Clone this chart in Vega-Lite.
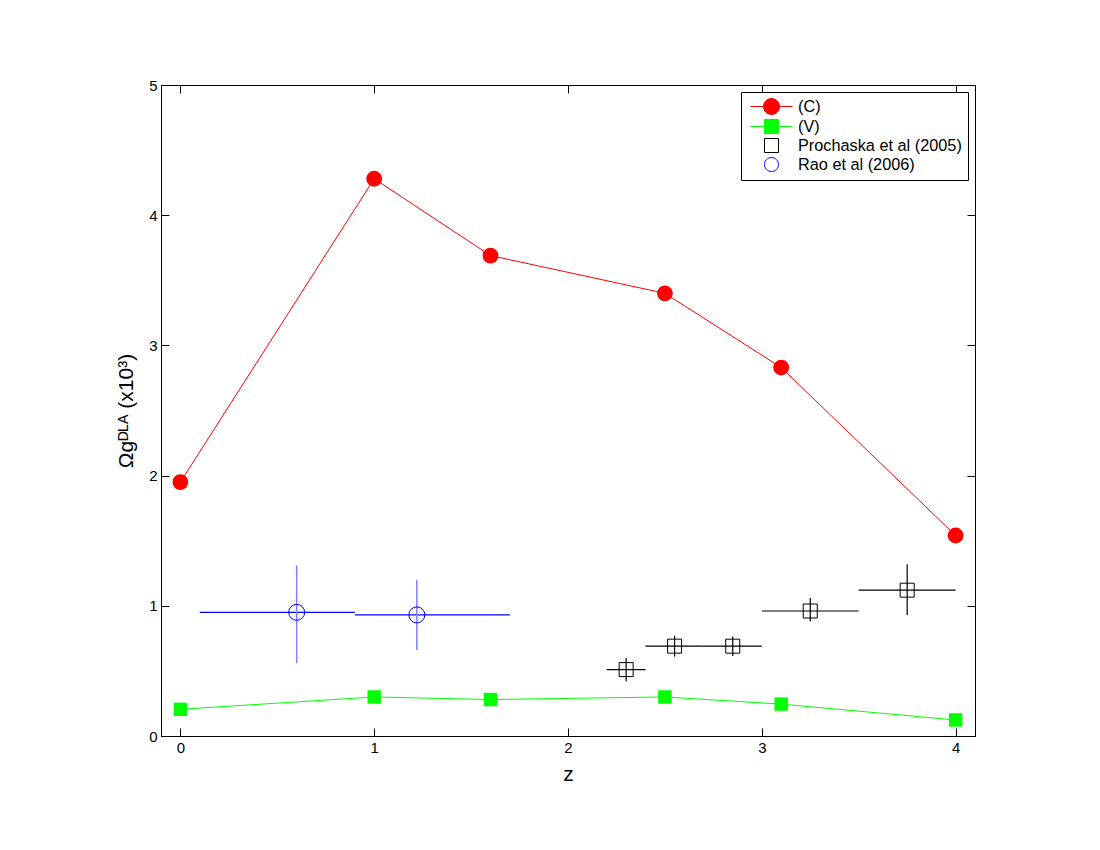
{
  "$schema": "https://vega.github.io/schema/vega-lite/v6.json",
  "autosize": {"type": "none"},
  "padding": {"left": 161, "top": 85, "right": 125, "bottom": 114},
  "width": 814,
  "height": 651,
  "background": "white",
  "config": {
    "view": {"stroke": "black", "strokeWidth": 1},
    "axis": {
      "grid": false,
      "domainColor": "black",
      "domainWidth": 1,
      "tickColor": "black",
      "tickSize": -8,
      "tickWidth": 1,
      "labelColor": "black",
      "labelFont": "Liberation Sans",
      "labelFontSize": 15,
      "titleFont": "Liberation Sans",
      "titleFontSize": 21,
      "titleFontWeight": "normal",
      "titleColor": "black"
    },
    "legend": {
      "labelFont": "Liberation Sans",
      "labelFontSize": 16.3,
      "labelColor": "black",
      "labelLimit": 400
    }
  },
  "data": {
    "values": [
      {"series": "(C)", "z": 0, "omega": 1.95},
      {"series": "(C)", "z": 1, "omega": 4.28},
      {"series": "(C)", "z": 1.6, "omega": 3.69},
      {"series": "(C)", "z": 2.5, "omega": 3.40},
      {"series": "(C)", "z": 3.1, "omega": 2.83},
      {"series": "(C)", "z": 4, "omega": 1.54},
      {"series": "(V)", "z": 0, "omega": 0.205},
      {"series": "(V)", "z": 1, "omega": 0.30},
      {"series": "(V)", "z": 1.6, "omega": 0.28},
      {"series": "(V)", "z": 2.5, "omega": 0.30},
      {"series": "(V)", "z": 3.1, "omega": 0.245},
      {"series": "(V)", "z": 4, "omega": 0.123},
      {"series": "Prochaska et al (2005)", "z": 2.3, "omega": 0.51, "zlo": 2.2, "zhi": 2.4, "olo": 0.42, "ohi": 0.60},
      {"series": "Prochaska et al (2005)", "z": 2.55, "omega": 0.69, "zlo": 2.4, "zhi": 2.7, "olo": 0.61, "ohi": 0.77},
      {"series": "Prochaska et al (2005)", "z": 2.85, "omega": 0.69, "zlo": 2.7, "zhi": 3.0, "olo": 0.615, "ohi": 0.765},
      {"series": "Prochaska et al (2005)", "z": 3.25, "omega": 0.96, "zlo": 3.0, "zhi": 3.5, "olo": 0.88, "ohi": 1.06},
      {"series": "Prochaska et al (2005)", "z": 3.75, "omega": 1.12, "zlo": 3.5, "zhi": 4.0, "olo": 0.93, "ohi": 1.32},
      {"series": "Rao et al (2006)", "z": 0.6, "omega": 0.95, "zlo": 0.1, "zhi": 0.9, "olo": 0.56, "ohi": 1.31},
      {"series": "Rao et al (2006)", "z": 1.22, "omega": 0.93, "zlo": 0.9, "zhi": 1.7, "olo": 0.66, "ohi": 1.20}
    ]
  },
  "resolve": {"axis": {"x": "independent", "y": "independent"}},
  "layer": [
    {
      "transform": [{"filter": "datum.series === 'Rao et al (2006)'"}],
      "mark": {"type": "rule", "color": "#0000ff", "strokeWidth": 1.3},
      "encoding": {
        "x": {"field": "zlo", "type": "quantitative", "scale": {"domain": [-0.1, 4.1], "nice": false, "zero": false},
              "axis": {"orient": "bottom", "values": [0, 1, 2, 3, 4], "title": "z", "labelPadding": 12, "titlePadding": 8}},
        "x2": {"field": "zhi"},
        "y": {"field": "omega", "type": "quantitative", "scale": {"domain": [0, 5], "nice": false},
              "axis": {"orient": "left", "values": [0, 1, 2, 3, 4, 5], "title": "Ωgᴰᴸᴬ (x10³)", "labelPadding": 12, "titlePadding": 12}}
      }
    },
    {
      "transform": [{"filter": "datum.series === 'Rao et al (2006)'"}],
      "mark": {"type": "rule", "color": "#7f7fff", "strokeWidth": 1.5},
      "encoding": {
        "x": {"field": "z", "type": "quantitative", "scale": {"domain": [-0.1, 4.1], "nice": false, "zero": false},
              "axis": {"orient": "top", "values": [0, 1, 2, 3, 4], "labels": false, "title": null}},
        "y": {"field": "olo", "type": "quantitative", "scale": {"domain": [0, 5], "nice": false},
              "axis": {"orient": "right", "values": [0, 1, 2, 3, 4, 5], "labels": false, "title": null}},
        "y2": {"field": "ohi"}
      }
    },
    {
      "transform": [{"filter": "datum.series === 'Prochaska et al (2005)'"}],
      "mark": {"type": "rule", "color": "black", "strokeWidth": 1.2},
      "encoding": {
        "x": {"field": "zlo", "type": "quantitative", "axis": null},
        "x2": {"field": "zhi"},
        "y": {"field": "omega", "type": "quantitative", "axis": null}
      }
    },
    {
      "transform": [{"filter": "datum.series === 'Prochaska et al (2005)'"}],
      "mark": {"type": "rule", "color": "black", "strokeWidth": 1.2},
      "encoding": {
        "x": {"field": "z", "type": "quantitative", "axis": null},
        "y": {"field": "olo", "type": "quantitative", "axis": null},
        "y2": {"field": "ohi"}
      }
    },
    {
      "transform": [{"filter": "datum.series === '(C)'"}],
      "mark": {"type": "line", "color": "#ff0000", "strokeWidth": 1},
      "encoding": {
        "x": {"field": "z", "type": "quantitative", "axis": null},
        "y": {"field": "omega", "type": "quantitative", "axis": null}
      }
    },
    {
      "transform": [{"filter": "datum.series === '(V)'"}],
      "mark": {"type": "line", "color": "#00ff00", "strokeWidth": 1},
      "encoding": {
        "x": {"field": "z", "type": "quantitative", "axis": null},
        "y": {"field": "omega", "type": "quantitative", "axis": null}
      }
    },
    {
      "transform": [{"filter": "datum.series === '(C)'"}],
      "mark": {"type": "point", "shape": "circle", "filled": true, "color": "#ff0000", "size": 250, "strokeWidth": 1, "opacity": 1},
      "encoding": {
        "x": {"field": "z", "type": "quantitative", "axis": null},
        "y": {"field": "omega", "type": "quantitative", "axis": null}
      }
    },
    {
      "transform": [{"filter": "datum.series === '(V)'"}],
      "mark": {"type": "point", "shape": "square", "filled": true, "color": "#00ff00", "size": 180, "strokeWidth": 1, "opacity": 1},
      "encoding": {
        "x": {"field": "z", "type": "quantitative", "axis": null},
        "y": {"field": "omega", "type": "quantitative", "axis": null}
      }
    },
    {
      "transform": [{"filter": "datum.series === 'Prochaska et al (2005)'"}],
      "mark": {"type": "point", "shape": "square", "filled": false, "color": "#000000", "size": 196, "strokeWidth": 1, "opacity": 1},
      "encoding": {
        "x": {"field": "z", "type": "quantitative", "axis": null},
        "y": {"field": "omega", "type": "quantitative", "axis": null}
      }
    },
    {
      "transform": [{"filter": "datum.series === 'Rao et al (2006)'"}],
      "mark": {"type": "point", "shape": "circle", "filled": false, "color": "#0000ff", "size": 256, "strokeWidth": 1, "opacity": 1},
      "encoding": {
        "x": {"field": "z", "type": "quantitative", "axis": null},
        "y": {"field": "omega", "type": "quantitative", "axis": null}
      }
    },
    {
      "transform": [{"filter": "false"}],
      "mark": {"type": "point", "filled": false, "size": 256, "strokeWidth": 1, "opacity": 1},
      "encoding": {
        "x": {"field": "z", "type": "quantitative", "axis": null},
        "y": {"field": "omega", "type": "quantitative", "axis": null},
        "color": {
          "field": "series", "type": "nominal",
          "scale": {"domain": ["(C)", "(V)", "Prochaska et al (2005)", "Rao et al (2006)"], "range": ["#ff0000", "#00ff00", "#000000", "#0000ff"]},
          "legend": {
            "title": null,
            "orient": "top-right",
            "offset": 7,
            "padding": 6,
            "rowPadding": 0,
            "labelOffset": 34,
            "symbolSize": 256,
            "symbolStrokeWidth": 1,
            "strokeColor": "black",
            "fillColor": "white",
            "cornerRadius": 0
          }
        },
        "fill": {
          "field": "series", "type": "nominal",
          "scale": {"domain": ["(C)", "(V)", "Prochaska et al (2005)", "Rao et al (2006)"], "range": ["#ff0000", "#00ff00", "transparent", "transparent"]}
        },
        "shape": {
          "field": "series", "type": "nominal",
          "scale": {"domain": ["(C)", "(V)", "Prochaska et al (2005)", "Rao et al (2006)"],
                    "range": ["M-0.625,0L4.625,0M3,0A1,1 0 1 1 1,0A1,1 0 1 1 3,0Z", "M-0.625,0L4.625,0M1.125,-0.875H2.875V0.875H1.125Z", "M1.125,-0.875H2.875V0.875H1.125Z", "M2.875,0A0.875,0.875 0 1 1 1.125,0A0.875,0.875 0 1 1 2.875,0Z"]}
        }
      }
    }
  ]
}
